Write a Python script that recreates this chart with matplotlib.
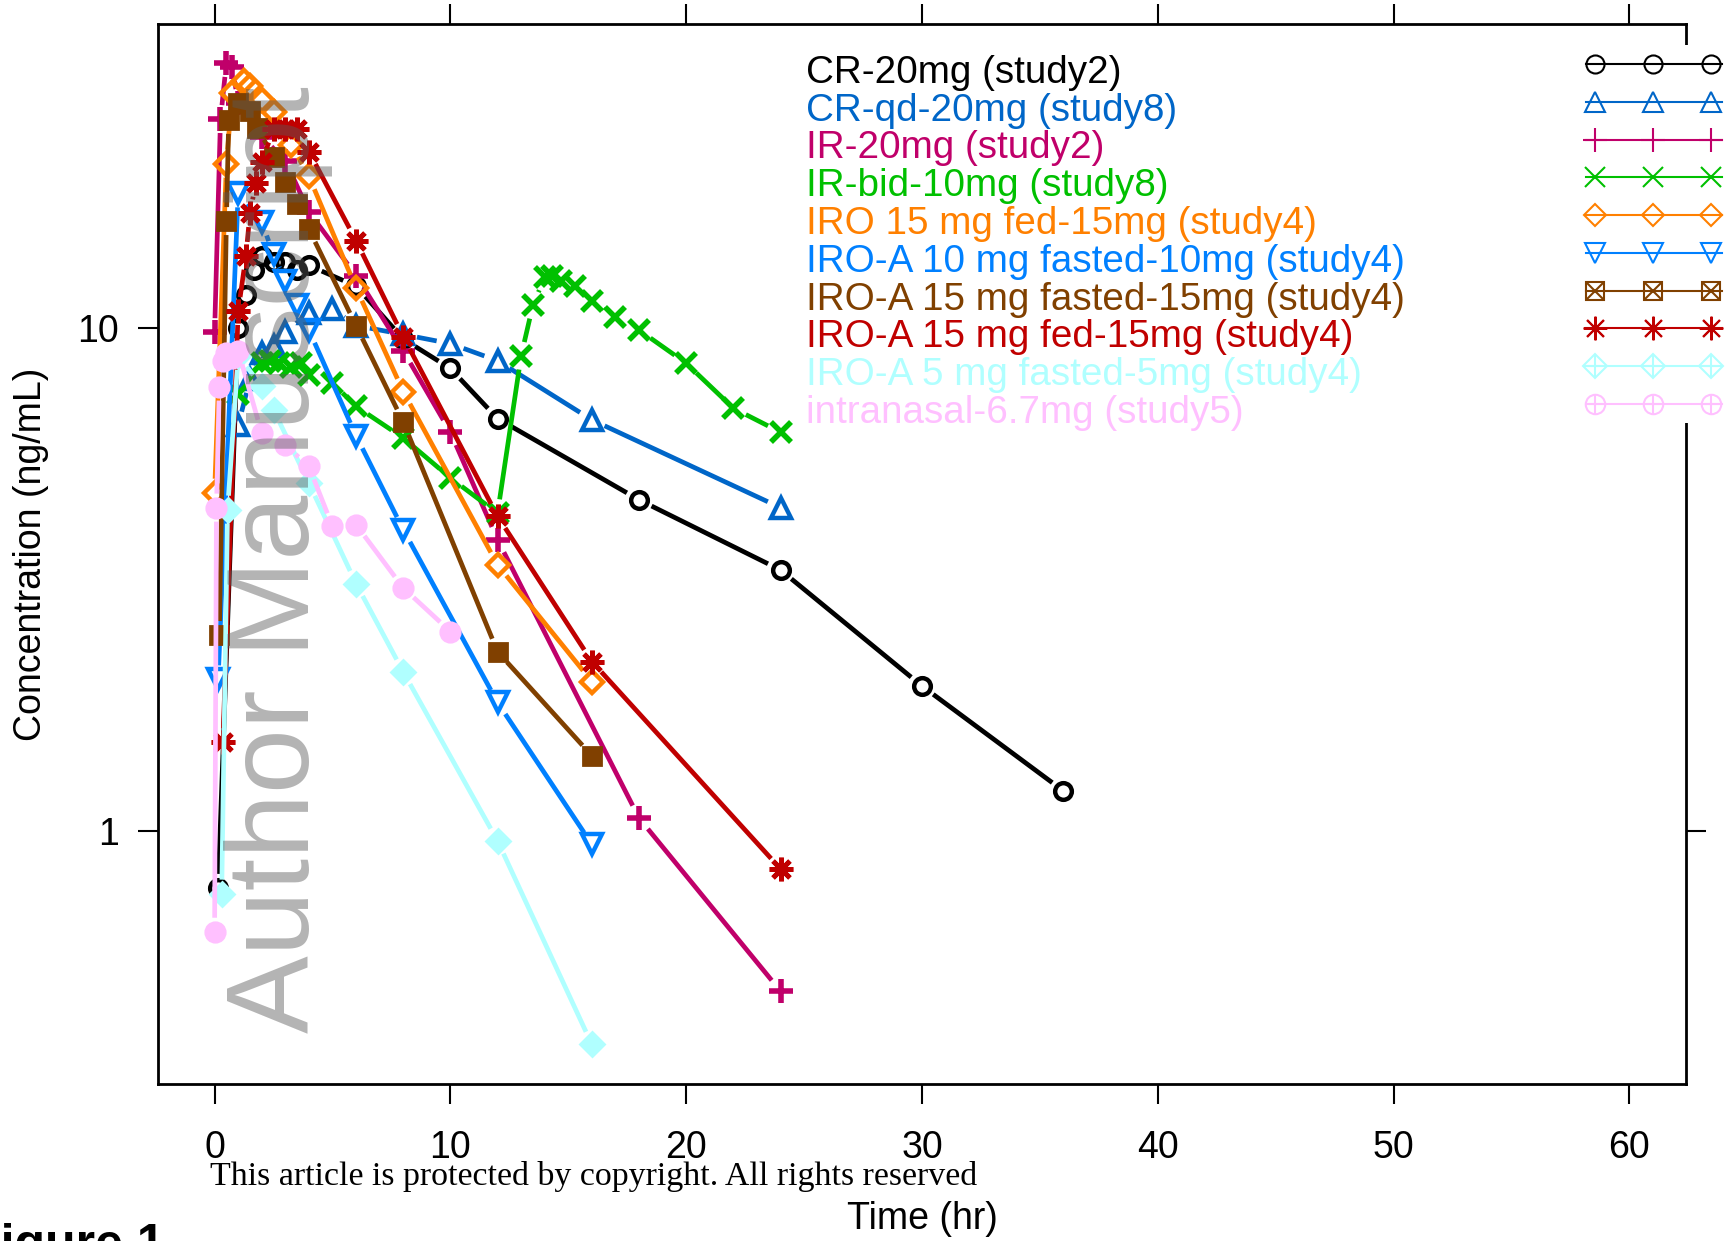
import numpy as np
import matplotlib
matplotlib.use("Agg")
import matplotlib.pyplot as plt
from matplotlib.lines import Line2D
from matplotlib.patches import Rectangle

plt.rcParams['font.family'] = ['Liberation Sans', 'DejaVu Sans']

W, H = 1731, 1241

# ---- concentration-time data (hr, ng/mL) ----
cr20_t = [0.15, 1, 1.33, 1.67, 2, 2.5, 3, 3.5, 4, 6, 8, 10, 12, 18, 24, 30, 36]
cr20_y = [0.77, 10.0, 11.6, 13.0, 13.9, 13.5, 13.5, 13.0, 13.3, 12.1, 9.5, 8.3, 6.6, 4.55, 3.3, 1.94, 1.2]

crqd_t = [1, 1.5, 2, 2.5, 3, 4, 5, 6, 8, 10, 12, 16, 24]
crqd_y = [6.4, 7.9, 8.9, 9.2, 9.8, 10.7, 10.9, 10.1, 9.7, 9.3, 8.6, 6.56, 4.39]

ir20_t = [0, 0.25, 0.5, 0.75, 1, 2, 3, 4, 6, 8, 10, 12, 18, 24]
ir20_y = [9.8, 26, 33.6, 33, 28, 24, 21.5, 17, 12.7, 9.0, 6.2, 3.79, 1.06, 0.48]

irbid_t = [1, 2, 2.33, 2.75, 3.25, 3.67, 4, 5, 6, 8, 10, 12,
           13, 13.5, 14, 14.3, 14.7, 15.3, 16, 17, 18, 20, 22, 24]
irbid_y = [7.4, 8.5, 8.57, 8.5, 8.37, 8.5, 8.07, 7.76, 6.98, 6.04, 5.03, 4.28,
           8.8, 11.1, 12.6, 12.65, 12.4, 12.1, 11.3, 10.5, 9.9, 8.5, 6.92, 6.2]

iro15fed_t = [0, 0.5, 0.75, 1.25, 1.5, 2, 2.5, 3.25, 4, 6, 8, 12, 16]
iro15fed_y = [4.7, 21.2, 29.3, 30.9, 30.2, 28.4, 26.9, 23.1, 20.0, 12.0, 7.47, 3.38, 1.98]

iroa10_t = [0.15, 1, 2, 2.5, 3, 3.5, 4, 6, 8, 12, 16]
iroa10_y = [2.0, 18.5, 16.2, 14.0, 12.4, 11.1, 9.9, 6.1, 3.97, 1.8, 0.94]

iroa15fast_t = [0.2, 0.5, 0.6, 1.0, 1.5, 1.8, 2.5, 3, 3.5, 4, 6, 8, 12, 16]
iroa15fast_y = [2.45, 16.3, 25.9, 28.0, 27.0, 25.0, 21.9, 19.5, 17.6, 15.7, 10.1, 6.5, 2.27, 1.41]

iroa15fed_t = [0.35, 1, 1.33, 1.5, 1.75, 2, 2.5, 3, 3.5, 4, 6, 8, 12, 16, 24]
iroa15fed_y = [1.5, 10.8, 13.9, 16.9, 19.4, 21.4, 24.8, 24.8, 24.8, 22.4, 14.9, 9.6, 4.22, 2.17, 0.84]

iroa5_t = [0.3, 0.55, 1.0, 2.0, 2.5, 4, 6, 8, 12, 16]
iroa5_y = [0.75, 4.35, 8.8, 7.65, 6.87, 4.91, 3.1, 2.07, 0.955, 0.376]

nasal_t = [0, 0.08, 0.2, 0.35, 0.5, 0.75, 1, 2, 3, 4, 5, 6, 8, 10]
nasal_y = [0.63, 4.39, 7.64, 8.6, 8.9, 8.7, 9.0, 6.17, 5.85, 5.3, 4.03, 4.06, 3.04, 2.49]

labels = ["CR-20mg (study2)", "CR-qd-20mg (study8)", "IR-20mg (study2)",
          "IR-bid-10mg (study8)", "IRO 15 mg fed-15mg (study4)",
          "IRO-A 10 mg fasted-10mg (study4)", "IRO-A 15 mg fasted-15mg (study4)",
          "IRO-A 15 mg fed-15mg (study4)", "IRO-A 5 mg fasted-5mg (study4)",
          "intranasal-6.7mg (study5)"]
colors = ["#000000", "#0066C8", "#C0006A", "#00C000", "#FF8000",
          "#0080FF", "#804000", "#C00000", "#B0FFFF", "#FFC0FF"]
times = [cr20_t, crqd_t, ir20_t, irbid_t, iro15fed_t,
         iroa10_t, iroa15fast_t, iroa15fed_t, iroa5_t, nasal_t]
concs = [cr20_y, crqd_y, ir20_y, irbid_y, iro15fed_y,
         iroa10_y, iroa15fast_y, iroa15fed_y, iroa5_y, nasal_y]

# marker styles in the panel (heavy) and in the key (thin)
panel_marks = [
    dict(marker='o', ms=12, mew=3.2, mfc='none'),
    dict(marker='^', ms=14, mew=3.2, mfc='none'),
    dict(marker='+', ms=17, mew=4),
    dict(marker='x', ms=14, mew=4),
    dict(marker='D', ms=11, mew=3.2, mfc='none'),
    dict(marker='v', ms=14, mew=3.2, mfc='none'),
    dict(marker='s', ms=13, mew=2),
    dict(marker=(8, 2, 0), ms=17, mew=3.5),
    dict(marker='D', ms=12, mew=2),
    dict(marker='o', ms=14, mew=2),
]
key_marks = [
    [dict(marker='o', ms=13, mfc='none')],
    [dict(marker='^', ms=14, mfc='none')],
    [dict(marker='+', ms=17)],
    [dict(marker='x', ms=14)],
    [dict(marker='D', ms=11, mfc='none')],
    [dict(marker='v', ms=14, mfc='none')],
    [dict(marker='s', ms=13, mfc='none'), dict(marker='x', ms=11)],
    [dict(marker=(8, 2, 0), ms=17)],
    [dict(marker='D', ms=12, mfc='none'), dict(marker='+', ms=16)],
    [dict(marker='o', ms=14, mfc='none'), dict(marker='+', ms=14)],
]

fig = plt.figure(figsize=(W / 100, H / 100), dpi=100)
ax = fig.add_axes([158 / W, 1 - 1084 / H, (1686 - 158) / W, (1084 - 24) / H])
ax.set_yscale('log')
ax.set_xlim(-2.4, 62.4)
ax.set_ylim(0.3138, 40.17)


def gapped_line(ax, t, y, color, gap=14, lw=3.4):
    # connect points but leave a gap around each symbol (type "b")
    pts = ax.transData.transform(np.column_stack([t, y]))
    inv = ax.transData.inverted()
    for p0, p1 in zip(pts[:-1], pts[1:]):
        d = p1 - p0
        L = np.hypot(*d)
        if L <= 2 * gap:
            continue
        u = d / L
        seg = inv.transform(np.array([p0 + u * gap, p1 - u * gap]))
        ax.plot(seg[:, 0], seg[:, 1], color=color, lw=lw,
                solid_capstyle='butt', clip_on=True)


for t, y, c, mk in zip(times, concs, colors, panel_marks):
    gapped_line(ax, t, y, c)
    ax.plot(t, y, ls='none', color=c, mec=c, **mk)

ax.set_xticks([0, 10, 20, 30, 40, 50, 60])
ax.set_yticks([1, 10])
ax.set_yticklabels(['1', '10'])
ax.yaxis.set_minor_locator(matplotlib.ticker.NullLocator())
ax.tick_params(axis='both', direction='out', length=14.4, width=1.5,
               labelsize=27, top=True, right=True)
ax.tick_params(axis='x', pad=19)
ax.tick_params(axis='y', pad=14)
for s in ax.spines.values():
    s.set_linewidth(2)

ax.set_xlabel("Time (hr)", fontsize=27)
ax.xaxis.set_label_coords(0.5, -0.1274)
ax.xaxis.label.set_va('center')
ax.set_ylabel("Concentration (ng/mL)", fontsize=27)
ax.yaxis.set_label_coords(-0.0831, 0.5)
ax.yaxis.label.set_va('center')


def fx(x):
    return x / W


def fy(y):
    return 1 - y / H


# key panel on a white ground over the upper right of the frame
fig.add_artist(Rectangle((fx(800), fy(423)), fx(1731 - 800), (423 - 45) / H,
                         transform=fig.transFigure, facecolor='white',
                         edgecolor='none', zorder=5))
for i, (lab, c, km) in enumerate(zip(labels, colors, key_marks)):
    ys = 64 + i * 37.75
    fig.text(fx(806), fy(ys + 19), lab, color=c, fontsize=27.8,
             ha='left', va='baseline', zorder=6)
    fig.add_artist(Line2D([fx(1586), fx(1722)], [fy(ys), fy(ys)],
                          transform=fig.transFigure, color=c, lw=1.5, zorder=6))
    for m in km:
        fig.add_artist(Line2D([fx(1595), fx(1653), fx(1711)], [fy(ys)] * 3,
                              transform=fig.transFigure, ls='none', color=c,
                              mec=c, mew=1.5, zorder=7, **m))

# watermark
fig.text(fx(309), fy(1033), "Author Manuscript", rotation=90,
         rotation_mode='anchor', ha='left', va='baseline', fontsize=84,
         color='0.35', alpha=0.45, zorder=10)

fig.text(fx(210), fy(1177), "This article is protected by copyright. All rights reserved",
         family='Liberation Serif', fontsize=24.4, ha='left', va='center')
fig.text(fx(-30), fy(1259), "Figure 1", fontsize=36, fontweight='bold',
         ha='left', va='baseline')

fig.savefig("out.png", dpi=100)
